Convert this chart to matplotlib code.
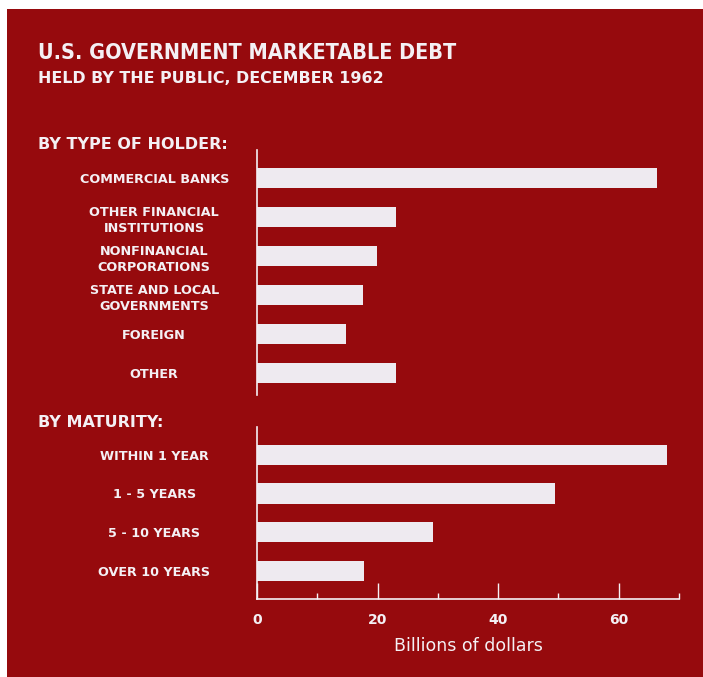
"""Horizontal bar panel: U.S. government marketable debt held by the public, Dec 1962."""

import matplotlib

matplotlib.use("Agg")
import matplotlib.pyplot as plt
from matplotlib.patches import Rectangle
from matplotlib.ticker import MultipleLocator

# Billions of dollars, by type of holder
HOLDERS = [
    "COMMERCIAL BANKS",
    "OTHER FINANCIAL\nINSTITUTIONS",
    "NONFINANCIAL\nCORPORATIONS",
    "STATE AND LOCAL\nGOVERNMENTS",
    "FOREIGN",
    "OTHER",
]
HOLDER_VALUES = [66.3, 23.1, 19.9, 17.5, 14.7, 23.1]

# Billions of dollars, by maturity
MATURITIES = ["WITHIN 1 YEAR", "1 - 5 YEARS", "5 - 10 YEARS", "OVER 10 YEARS"]
MATURITY_VALUES = [68.0, 49.4, 29.2, 17.8]

X_TICKS = [0, 20, 40, 60]
X_MAX = 70

RED = "#960a0d"
BAR = "#eeeaf0"
INK = "#f4f0f4"

W, H = 703, 677


def frac_rect(left, top, right, bottom):
    """Pixel box (from top-left) -> figure fraction [l, b, w, h]."""
    return [left / W, (H - bottom) / H, (right - left) / W, (bottom - top) / H]


def style_bars(ax, labels, values, pad_bottom):
    pos = list(range(len(labels)))
    ax.barh(pos, values, height=0.53, color=BAR, edgecolor="none", zorder=2)
    ax.set_xlim(0, X_MAX)
    ax.set_ylim(len(labels) - 1 + pad_bottom, -0.72)
    ax.set_facecolor("none")
    for side in ("top", "right"):
        ax.spines[side].set_visible(False)
    ax.spines["left"].set_color(INK)
    ax.spines["left"].set_linewidth(1.2)

    ax.set_yticks(pos)
    ax.set_yticklabels(labels)
    ax.tick_params(axis="y", length=0, pad=74)
    for lab in ax.get_yticklabels():
        lab.set_ha("center")
        lab.set_multialignment("center")
        lab.set_linespacing(1.32)
        lab.set_color(INK)
        lab.set_fontsize(9.2)
        lab.set_fontweight("bold")


fig = plt.figure(figsize=(W / 100, H / 100), dpi=100)
fig.patch.set_facecolor("white")
fig.add_artist(
    Rectangle((7 / W, 0), (W - 7) / W, (H - 9) / H, transform=fig.transFigure,
              facecolor=RED, edgecolor="none", zorder=-5)
)

# Top panel: by type of holder
ax1 = fig.add_axes(frac_rect(257, 150, 679, 395))
style_bars(ax1, HOLDERS, HOLDER_VALUES, 0.56)
ax1.spines["bottom"].set_visible(False)
ax1.set_xticks([])

# Bottom panel: by maturity, carries the value axis
ax2 = fig.add_axes(frac_rect(257, 427, 679, 599))
style_bars(ax2, MATURITIES, MATURITY_VALUES, 0.73)
ax2.spines["bottom"].set_color(INK)
ax2.spines["bottom"].set_linewidth(1.2)
ax2.set_xticks(X_TICKS)
ax2.set_xticklabels([str(t) for t in X_TICKS])
ax2.xaxis.set_minor_locator(MultipleLocator(10))
ax2.tick_params(axis="x", which="major", direction="in", length=11.5, width=1,
                color=INK, labelcolor=INK, labelsize=10, pad=10)
ax2.tick_params(axis="x", which="minor", direction="in", length=4.3, width=1,
                color=INK)
for lab in ax2.get_xticklabels():
    lab.set_fontweight("bold")
ax2.set_xlabel("Billions of dollars", color=INK, fontsize=12.5, labelpad=7)

# Headings
fig.text(38 / W, (H - 59) / H, "U.S. GOVERNMENT MARKETABLE DEBT", color=INK,
         fontsize=15.5, fontweight="bold", fontstretch="condensed", va="baseline")
fig.text(38 / W, (H - 83) / H, "HELD BY THE PUBLIC, DECEMBER 1962", color=INK,
         fontsize=11.4, fontweight="bold", va="baseline")
fig.text(38 / W, (H - 149) / H, "BY TYPE OF HOLDER:", color=INK,
         fontsize=11.5, fontweight="bold", va="baseline")
fig.text(38 / W, (H - 427) / H, "BY MATURITY:", color=INK,
         fontsize=11.5, fontweight="bold", va="baseline")

fig.savefig("out.png", dpi=100, facecolor=fig.get_facecolor())
